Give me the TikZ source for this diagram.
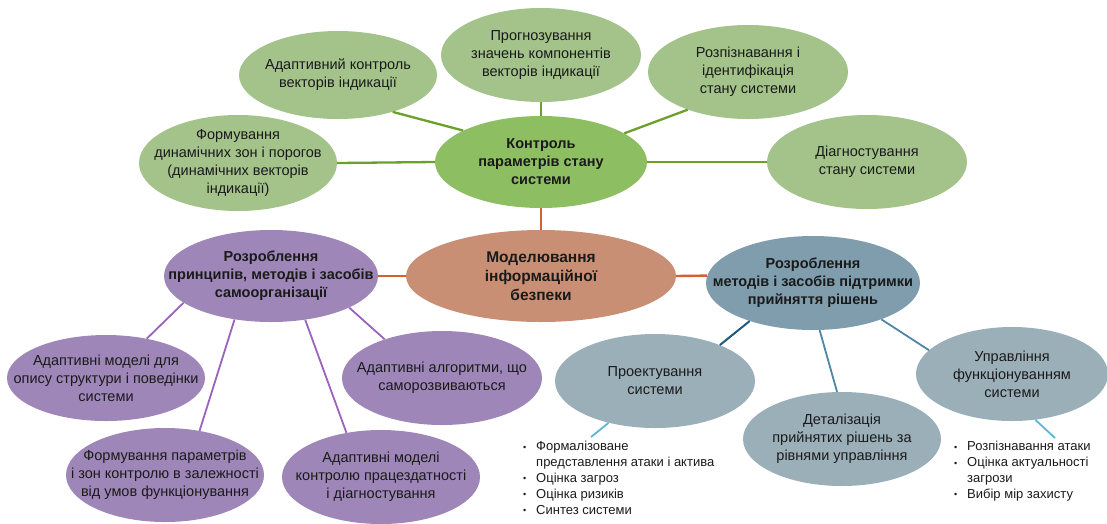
\documentclass[tikz,border=0pt]{standalone}
\usepackage{fontspec}
\setmainfont{Liberation Sans}
\usetikzlibrary{shapes.geometric}

\definecolor{gsubfill}{HTML}{A3C38B}
\definecolor{gmainfill}{HTML}{8DBF62}
\definecolor{gline}{HTML}{6C9F2C}
\definecolor{ofill}{HTML}{C98F75}
\definecolor{oline}{HTML}{D2612C}
\definecolor{pfill}{HTML}{9E87B8}
\definecolor{pline}{HTML}{9B62BE}
\definecolor{bmainfill}{HTML}{7F9DAD}
\definecolor{bsubfill}{HTML}{9BAFB9}
\definecolor{bline}{HTML}{4F86A2}
\definecolor{bdark}{HTML}{1F5A7A}
\definecolor{lline}{HTML}{5BB7D5}
\definecolor{txtcol}{HTML}{1A1A1A}

\newcommand\blt{\makebox[13pt][l]{\raisebox{0.5pt}{\fontsize{9}{9}\selectfont •}}}

\begin{document}
\begin{tikzpicture}[x=1pt,y=-1pt,
  blob/.style={ellipse, draw=none, inner sep=0pt, minimum width=200pt, minimum height=94pt},
  gsub/.style={blob, fill=gsubfill},
  gmain/.style={blob, fill=gmainfill},
  omain/.style={blob, fill=ofill},
  psub/.style={blob, fill=pfill},
  bmain/.style={blob, fill=bmainfill},
  bsub/.style={blob, fill=bsubfill},
  txt/.style={align=center, inner sep=0pt, text=txtcol, font=\fontsize{14.5}{18}\selectfont},
  btxt/.style={txt, font=\bfseries\fontsize{14.5}{18}\selectfont},
  lst/.style={align=left, inner sep=0pt, text=txtcol, anchor=north west, font=\fontsize{13}{15.9}\selectfont},
  gconn/.style={draw=gline, line width=2.3pt},
  oconn/.style={draw=oline, line width=2.4pt},
  pconn/.style={draw=pline, line width=1.8pt},
  bconn/.style={draw=bline, line width=1.8pt},
  lconn/.style={draw=lline, line width=1.8pt}]
\useasboundingbox (0,0) rectangle (1107,523);

% green cluster: monitoring of system state parameters
\node[gsub, minimum width=198pt, minimum height=88pt] (gAdapt) at (338,75) {};
\node[gsub] (gProg) at (541,55) {};
\node[gsub] (gRecog) at (748,72) {};
\node[gsub, minimum width=198pt, minimum height=96pt] (gForm) at (238,163) {};
\node[gsub] (gDiag) at (867,162) {};
\node[gmain, minimum width=212pt, minimum height=92pt] (ctrl) at (541,162) {};

% central node
\node[omain, minimum width=270pt, minimum height=92pt] (model) at (541,276) {};

% purple cluster: self-organisation
\node[psub, minimum width=214pt, minimum height=92pt] (pMain) at (271,276) {};
\node[psub, minimum width=198pt, minimum height=86pt] (pAM) at (106,378) {};
\node[psub, minimum width=198pt] (pFP) at (165,475) {};
\node[psub, minimum width=198pt] (pAMK) at (381,477) {};
\node[psub] (pAA) at (442,378) {};

% blue cluster: decision support
\node[bmain, minimum width=214pt] (bMain) at (813,283) {};
\node[bsub] (bProj) at (655,381) {};
\node[bsub, minimum width=198pt] (bDet) at (842,439) {};
\node[bsub, minimum width=192pt] (bMgmt) at (1012,374) {};

% list anchors
\coordinate (listLtop) at (591,437);
\coordinate (listRtop) at (1055,438);

% connectors
\draw[gconn] (gAdapt.-34) -- (ctrl.158);
\draw[gconn] (gProg.-90) -- (ctrl.90);
\draw[gconn] (gRecog.212) -- (ctrl.19);
\draw[gconn] (gForm.east) -- (ctrl.west);
\draw[gconn] (gDiag.west) -- (ctrl.east);

\draw[oconn] (ctrl.south) -- (model.north);
\draw[oconn] (pMain.east) -- (model.west);
\draw[oconn] (model.east) -- (bMain.176);

\draw[pconn] (pMain.197) -- (pAM.44);
\draw[pconn] (pMain.230) -- (pFP.52);
\draw[pconn] (pMain.-52) -- (pAMK.128);
\draw[pconn] (pMain.-22) -- (pAA.146);

\draw[draw=bdark, line width=2pt] (bMain.211) -- (bProj.29);
\draw[bconn] (bMain.-82) -- (bDet.96);
\draw[bconn] (bMain.-28) -- (bMgmt.164);
\draw[lconn] (bProj.222) -- (listLtop);
\draw[lconn] (bMgmt.-63) -- (listRtop);

% labels
\node[txt] (gAdaptT) at (gAdapt) {Адаптивний контроль\\векторів індикації};
\node[txt] (gProgT) at (gProg) {Прогнозування\\значень компонентів\\векторів індикації};
\node[txt] (gRecogT) at (gRecog) {Розпізнавання і\\ідентифікація\\стану системи};
\node[txt] (gFormT) at (gForm) {Формування\\динамічних зон і порогов\\(динамічних векторів\\індикації)};
\node[txt] (gDiagT) at (gDiag) {Діагностування\\стану системи};
\node[btxt] (ctrlT) at (ctrl) {Контроль\\параметрів стану\\системи};

\node[btxt, font=\bfseries\fontsize{15.5}{19}\selectfont] (modelT) at (model) {Моделювання\\інформаційної\\безпеки};

\node[btxt] (pMainT) at (pMain) {Розроблення\\принципів, методів і засобів\\самоорганізації};
\node[txt] (pAMT) at (pAM) {Адаптивні моделі для\\опису структури і поведінки\\системи};
\node[txt] (pFPT) at (pFP) {Формування параметрів\\і зон контролю в залежності\\від умов функціонування};
\node[txt] (pAMKT) at (pAMK) {Адаптивні моделі\\контролю працездатності\\і діагностування};
\node[txt] (pAAT) at (pAA) {Адаптивні алгоритми, що\\саморозвиваються};

\node[btxt] (bMainT) at (bMain) {Розроблення\\методів і засобів підтримки\\прийняття рішень};
\node[txt] (bProjT) at (bProj) {Проектування\\системи};
\node[txt] (bDetT) at (bDet) {Деталізація\\прийнятих рішень за\\рівнями управління};
\node[txt] (bMgmtT) at (bMgmt) {Управління\\функціонуванням\\системи};

\node[lst] (listL) at (523,441) {\blt Формалізоване\\\hspace*{13pt}представлення атаки і актива\\\blt Оцінка загроз\\\blt Оцінка ризиків\\\blt Синтез системи};
\node[lst] (listR) at (954,441) {\blt Розпізнавання атаки\\\blt Оцінка актуальності\\\hspace*{13pt}загрози\\\blt Вибір мір захисту};
\end{tikzpicture}
\end{document}
